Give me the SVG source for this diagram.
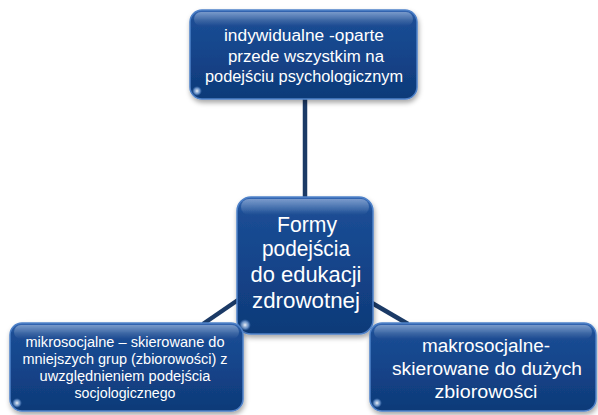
<svg xmlns="http://www.w3.org/2000/svg" width="598" height="415" viewBox="0 0 598 415">
<defs>
<linearGradient id="g" x1="0" y1="0" x2="0" y2="1">
<stop offset="0" stop-color="#3567b3"/>
<stop offset="0.12" stop-color="#1b4d94"/>
<stop offset="0.5" stop-color="#14448a"/>
<stop offset="1" stop-color="#0f3a78"/>
</linearGradient>
<linearGradient id="gl" x1="0" y1="0" x2="0" y2="1">
<stop offset="0" stop-color="#ffffff" stop-opacity="0.35"/>
<stop offset="1" stop-color="#ffffff" stop-opacity="0"/>
</linearGradient>
<radialGradient id="spot" cx="0.5" cy="0.5" r="0.5">
<stop offset="0" stop-color="#ffffff" stop-opacity="0.95"/>
<stop offset="0.6" stop-color="#9cc0f0" stop-opacity="0.6"/>
<stop offset="1" stop-color="#5a8ad0" stop-opacity="0"/>
</radialGradient>
<filter id="sh" x="-10%" y="-10%" width="120%" height="130%">
<feDropShadow dx="1" dy="3" stdDeviation="2.5" flood-color="#000" flood-opacity="0.35"/>
</filter>
</defs>
<style>
.box{fill:url(#g);stroke:#4f82c9;stroke-width:1.5;filter:url(#sh)}
.gloss{fill:url(#gl)}
.spot{fill:url(#spot)}
.t{fill:#ffffff;font-family:"Liberation Sans",Arial,sans-serif;text-anchor:middle}
.c{stroke:#1b3a66;stroke-width:4.5;fill:none}
</style>
<g id="connectors">
<line class="c" x1="305" y1="99" x2="305" y2="198"/>
<line class="c" x1="238" y1="300" x2="203" y2="324"/>
<line class="c" x1="372" y1="303" x2="408" y2="324"/>
</g>
<g id="top">
<rect class="box" x="190" y="10" width="227" height="89" rx="12"/>
<rect class="gloss" x="194" y="12" width="219" height="14" rx="7"/>
<circle class="spot" cx="197" cy="91" r="5"/>
<text class="t" font-size="16" x="304" y="41" textLength="160" lengthAdjust="spacingAndGlyphs">indywidualne -oparte</text>
<text class="t" font-size="16" x="306" y="62" textLength="156" lengthAdjust="spacingAndGlyphs">przede wszystkim na</text>
<text class="t" font-size="16" x="304" y="82" textLength="198" lengthAdjust="spacingAndGlyphs">podejściu psychologicznym</text>
</g>
<g id="center">
<rect class="box" x="237" y="197" width="136" height="137" rx="14"/>
<rect class="gloss" x="241" y="199" width="128" height="16" rx="8"/>
<circle class="spot" cx="245" cy="325" r="6"/>
<text class="t" font-size="22" x="307" y="232" textLength="60" lengthAdjust="spacingAndGlyphs">Formy</text>
<text class="t" font-size="22" x="306" y="256" textLength="88" lengthAdjust="spacingAndGlyphs">podejścia</text>
<text class="t" font-size="22" x="306" y="282" textLength="111" lengthAdjust="spacingAndGlyphs">do edukacji</text>
<text class="t" font-size="22" x="306" y="308" textLength="108" lengthAdjust="spacingAndGlyphs">zdrowotnej</text>
</g>
<g id="bottom-left">
<rect class="box" x="10" y="323" width="233" height="88" rx="12"/>
<rect class="gloss" x="14" y="325" width="225" height="14" rx="7"/>
<circle class="spot" cx="17" cy="403" r="5"/>
<text class="t" font-size="14" x="125" y="347" textLength="199" lengthAdjust="spacingAndGlyphs">mikrosocjalne – skierowane do</text>
<text class="t" font-size="14" x="125" y="364" textLength="205" lengthAdjust="spacingAndGlyphs">mniejszych grup (zbiorowości) z</text>
<text class="t" font-size="14" x="125" y="381" textLength="171" lengthAdjust="spacingAndGlyphs">uwzględnieniem podejścia</text>
<text class="t" font-size="14" x="125" y="398" textLength="101" lengthAdjust="spacingAndGlyphs">socjologicznego</text>
</g>
<g id="bottom-right">
<rect class="box" x="370" y="323" width="226" height="88" rx="12"/>
<rect class="gloss" x="374" y="325" width="218" height="14" rx="7"/>
<circle class="spot" cx="377" cy="403" r="5"/>
<text class="t" font-size="18" x="486" y="352" textLength="128" lengthAdjust="spacingAndGlyphs">makrosocjalne-</text>
<text class="t" font-size="18" x="487" y="375" textLength="190" lengthAdjust="spacingAndGlyphs">skierowane do dużych</text>
<text class="t" font-size="18" x="486" y="398" textLength="103" lengthAdjust="spacingAndGlyphs">zbiorowości</text>
</g>
</svg>
